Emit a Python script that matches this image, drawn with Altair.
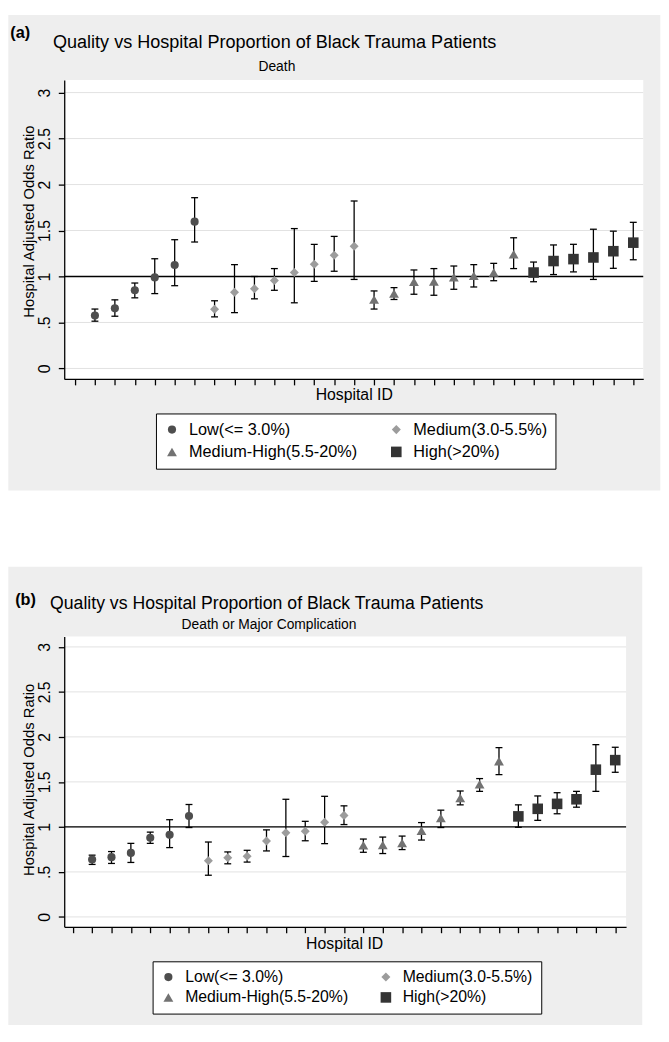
import altair as alt
import pandas as pd

# ---------------- data ----------------
HOSPITAL_ID = list(range(1, 29))
GROUP_CODE = ["L", "L", "L", "L", "L", "L",
              "M", "M", "M", "M", "M", "M", "M", "M",
              "MH", "MH", "MH", "MH", "MH", "MH", "MH", "MH",
              "H", "H", "H", "H", "H", "H"]
CATEGORIES = ["Low(<= 3.0%)", "Medium(3.0-5.5%)", "Medium-High(5.5-20%)", "High(>20%)"]
CODE_TO_CAT = {"L": CATEGORIES[0], "M": CATEGORIES[1], "MH": CATEGORIES[2], "H": CATEGORIES[3]}

# (a) Death
OR_A = [0.575, 0.654, 0.850, 0.990, 1.125, 1.596, 0.643, 0.829, 0.868, 0.957, 1.043, 1.132, 1.232, 1.330,
        0.750, 0.814, 0.943, 0.946, 0.993, 1.007, 1.043, 1.243, 1.043, 1.168, 1.189, 1.207, 1.275, 1.368]
LO_A = [0.514, 0.568, 0.768, 0.814, 0.900, 1.375, 0.561, 0.607, 0.757, 0.850, 0.714, 0.946, 1.057, 0.968,
        0.646, 0.750, 0.807, 0.796, 0.861, 0.886, 0.954, 1.086, 0.943, 1.021, 1.050, 0.968, 1.089, 1.182]
HI_A = [0.646, 0.746, 0.929, 1.193, 1.400, 1.857, 0.736, 1.129, 1.000, 1.086, 1.521, 1.350, 1.436, 1.821,
        0.843, 0.879, 1.071, 1.086, 1.114, 1.129, 1.143, 1.421, 1.157, 1.343, 1.350, 1.514, 1.493, 1.589]

# (b) Death or Major Complication
OR_B = [0.638, 0.664, 0.711, 0.879, 0.912, 1.121, 0.623, 0.656, 0.675, 0.843, 0.934, 0.952, 1.051, 1.128,
        0.795, 0.799, 0.821, 0.956, 1.099, 1.322, 1.475, 1.731, 1.117, 1.201, 1.256, 1.307, 1.636, 1.742]
LO_B = [0.583, 0.594, 0.605, 0.817, 0.770, 0.993, 0.463, 0.590, 0.609, 0.733, 0.671, 0.846, 0.814, 1.026,
        0.718, 0.704, 0.748, 0.854, 0.993, 1.245, 1.395, 1.581, 0.996, 1.073, 1.146, 1.219, 1.395, 1.607]
HI_B = [0.686, 0.726, 0.817, 0.942, 1.080, 1.249, 0.832, 0.722, 0.740, 0.967, 1.307, 1.062, 1.340, 1.234,
        0.865, 0.887, 0.898, 1.048, 1.186, 1.399, 1.537, 1.881, 1.245, 1.344, 1.380, 1.395, 1.914, 1.885]

Y_TICKS = [0, 0.5, 1, 1.5, 2, 2.5, 3]
Y_TICK_LABELS = ["0", ".5", "1", "1.5", "2", "2.5", "3"]
X_TICKS = list(range(0, 29))
REF_LINE = [1]

TITLE = "Quality vs Hospital Proportion of Black Trauma Patients"
SUBTITLE_A = "Death"
SUBTITLE_B = "Death or Major Complication"
Y_TITLE = "Hospital Adjusted Odds Ratio"
X_TITLE = "Hospital ID"

# ---------------- styles ----------------
COLORS = ["#4e4e4e", "#9c9c9c", "#727272", "#343434"]
SHAPES = ["circle", "diamond", "triangle-up", "square"]
SIZES = [68, 115, 105, 54]
BG = "#eeeeee"
FONT = "Liberation Sans"

label_expr = " : ".join(
    [f"datum.value == {v} ? '{l}'" for v, l in zip(Y_TICKS, Y_TICK_LABELS)]
) + " : datum.label"


def panel(tag, subtitle, orv, lo, hi, W, H, ydom, xdom, bgbox, title_xy, title_size, sub_xy,
          ytitle_x, ytitle_y, xtitle_xy, legend_xy, legend_font, legend_cp, legend_rp, tag_xy):
    df = pd.DataFrame({
        "id": HOSPITAL_ID,
        "or": orv, "lo": lo, "hi": hi,
        "group": [CODE_TO_CAT[c] for c in GROUP_CODE],
    })
    grid_df = pd.DataFrame({"v": Y_TICKS})
    ref_df = pd.DataFrame({"v": REF_LINE})
    one = alt.Data(values=[{}])

    xscale = alt.Scale(domain=xdom, nice=False, zero=False)
    yscale = alt.Scale(domain=ydom, nice=False, zero=False)
    xaxis = alt.Axis(values=X_TICKS, labels=False, title=X_TITLE, titleFont=FONT, titleFontSize=16,
                     titleFontWeight="normal", titleX=xtitle_xy[0], titleY=xtitle_xy[1],
                     titleBaseline="alphabetic", titleAlign="center", zindex=2)
    yaxis = alt.Axis(values=Y_TICKS, labelExpr=label_expr, labelAngle=270, labelAlign="center",
                     labelBaseline="alphabetic", labelPadding=8.7, labelFont=FONT, labelFontSize=16,
                     title=Y_TITLE, titleFont=FONT, titleFontSize=15, titleFontWeight="normal",
                     titleAngle=270, titleAlign="center", titleBaseline="alphabetic",
                     titleX=ytitle_x, titleY=ytitle_y, zindex=2)

    X = alt.X("id:Q", scale=xscale, axis=xaxis, title=X_TITLE)

    bg = alt.Chart(one).mark_rect(color=BG, clip=False).encode(
        x=alt.value(bgbox[0]), x2=alt.value(bgbox[1]), y=alt.value(bgbox[2]), y2=alt.value(bgbox[3]))
    plotbg = alt.Chart(one).mark_rect(color="white").encode(
        x=alt.value(0), x2=alt.value(W), y=alt.value(0), y2=alt.value(H))
    grid = alt.Chart(grid_df).mark_rule(color="#e2e2e2", strokeWidth=1).encode(
        y=alt.Y("v:Q", scale=yscale, axis=yaxis, title=Y_TITLE))
    ref = alt.Chart(ref_df).mark_rule(color="black", strokeWidth=1.3).encode(
        y=alt.Y("v:Q", scale=yscale, axis=yaxis, title=Y_TITLE))
    base = alt.Chart(df)
    bars = base.mark_rule(color="black", strokeWidth=1.3).encode(
        x=X, y=alt.Y("lo:Q", scale=yscale, axis=yaxis, title=Y_TITLE), y2="hi:Q")
    cap_lo = base.mark_tick(orient="horizontal", size=7, thickness=1.3, color="black", opacity=1).encode(
        x=X, y=alt.Y("lo:Q", scale=yscale, axis=yaxis, title=Y_TITLE))
    cap_hi = base.mark_tick(orient="horizontal", size=7, thickness=1.3, color="black", opacity=1).encode(
        x=X, y=alt.Y("hi:Q", scale=yscale, axis=yaxis, title=Y_TITLE))
    legend = alt.Legend(title=None, orient="none", legendX=legend_xy[0], legendY=legend_xy[1],
                        columns=2, direction="horizontal", symbolSize=55, labelFontSize=legend_font,
                        columnPadding=legend_cp, rowPadding=legend_rp, labelOffset=9)
    pts = base.mark_point(filled=True, opacity=1, strokeWidth=0).encode(
        x=X,
        y=alt.Y("or:Q", scale=yscale, axis=yaxis, title=Y_TITLE),
        color=alt.Color("group:N", scale=alt.Scale(domain=CATEGORIES, range=COLORS), legend=legend),
        shape=alt.Shape("group:N", scale=alt.Scale(domain=CATEGORIES, range=SHAPES), legend=legend),
        size=alt.Size("group:N", scale=alt.Scale(domain=CATEGORIES, range=SIZES), legend=None),
    )
    tag_text = alt.Chart(one).mark_text(text=tag, font=FONT, fontSize=16.5, fontWeight="bold",
                                        align="left", baseline="alphabetic", color="black").encode(
        x=alt.value(tag_xy[0]), y=alt.value(tag_xy[1]))
    title_text = alt.Chart(one).mark_text(text=TITLE, font=FONT, fontSize=title_size, align="center",
                                          baseline="alphabetic", color="black").encode(
        x=alt.value(title_xy[0]), y=alt.value(title_xy[1]))
    sub_text = alt.Chart(one).mark_text(text=subtitle, font=FONT, fontSize=14, align="center",
                                        baseline="alphabetic", color="black").encode(
        x=alt.value(sub_xy[0]), y=alt.value(sub_xy[1]))

    return alt.layer(bg, plotbg, grid, ref, bars, cap_lo, cap_hi, pts,
                     tag_text, title_text, sub_text).properties(width=W, height=H)


chart_a = panel("(a)", SUBTITLE_A, OR_A, LO_A, HI_A, W=587, H=303,
                ydom=[-0.114, 3.136], xdom=[-0.54, 28.5],
                bgbox=[-56.7, 604.3, -66, 416], title_xy=[213.3, -32.5], title_size=18.3,
                sub_xy=[215.6, -9], ytitle_x=-31.4, ytitle_y=143, xtitle_xy=[293.5, 21],
                legend_xy=[93, 338], legend_font=16.5, legend_cp=30.4, legend_rp=5.7,
                tag_xy=[-54.7, -42.5])
chart_b = panel("(b)", SUBTITLE_B, OR_B, LO_B, HI_B, W=569.6, H=294.4,
                ydom=[-0.110, 3.117], xdom=[-0.44, 28.56],
                bgbox=[-56.7, 586, -70.6, 394], title_xy=[205.3, -27.3], title_size=17.9,
                sub_xy=[207.6, -7.8], ytitle_x=-31.4, ytitle_y=145, xtitle_xy=[283.8, 21.6],
                legend_xy=[89.6, 329.4], legend_font=16, legend_cp=29.5, legend_rp=4.6,
                tag_xy=[-49.7, -32.3])

chart = alt.vconcat(chart_a, chart_b, spacing=77).resolve_scale(
    color="independent", shape="independent", size="independent", x="independent", y="independent"
).resolve_legend(color="independent", shape="independent", size="independent").configure(
    padding=0, background="white"
).configure_view(stroke=None).configure_axis(
    domainColor="black", domainWidth=1.3, tickColor="black", tickWidth=1.3, tickSize=6,
    labelColor="black", titleColor="black", grid=False
).configure_legend(
    strokeColor="black", fillColor="white", padding=8, labelFont=FONT,
    labelColor="black", labelLimit=300, symbolStrokeWidth=0, cornerRadius=0
)

chart.save("out.html", embed_options={"renderer": "svg", "actions": False})
